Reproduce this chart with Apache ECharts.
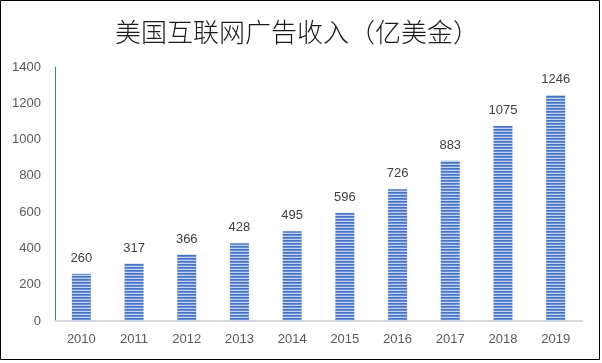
<!DOCTYPE html>
<html><head><meta charset="utf-8">
<script src="https://cdn.jsdelivr.net/npm/echarts@6/dist/echarts.min.js"></script>
<style>html,body{margin:0;padding:0;background:#fff}#c{width:602px;height:363px}</style>
</head><body><div id="c"></div>
<script>
var categories = ['2010','2011','2012','2013','2014','2015','2016','2017','2018','2019'];
var revenue = [260,317,366,428,495,596,726,883,1075,1246];
var yTicks = [0,200,400,600,800,1000,1200,1400];

var pc = document.createElement('canvas');
pc.width = 4; pc.height = 3;
var ctx = pc.getContext('2d');
ctx.fillStyle = '#4472C4'; ctx.fillRect(0,0,4,1);
ctx.fillStyle = '#6a8fd4'; ctx.fillRect(0,1,4,1);
ctx.fillStyle = '#c3d2ee'; ctx.fillRect(0,2,4,1);

var chart = echarts.init(document.getElementById('c'), null, {renderer:'canvas'});
chart.setOption({
  animation:false,
  backgroundColor:'#fff',
  title:{text:'美国互联网广告收入（亿美金）', left:292, top:14, textAlign:'center',
    textStyle:{fontFamily:'Noto Sans CJK SC', fontSize:26, fontWeight:300, color:'#1a1a1a'}},
  graphic:[{type:'rect', shape:{x:0.5,y:0.5,width:599,height:359}, style:{fill:null, stroke:'#000', lineWidth:1}, silent:true}],
  grid:{left:55, right:20, top:67, bottom:42},
  xAxis:{type:'category', data:categories,
    axisLine:{lineStyle:{color:'#d9d9d9', width:2}}, axisTick:{show:false},
    axisLabel:{color:'#595959', fontSize:13, fontFamily:'Liberation Sans', margin:12}},
  yAxis:{type:'value', min:yTicks[0], max:yTicks[yTicks.length-1], interval:200,
    axisLine:{show:true, lineStyle:{color:'#4472C4', width:1}}, axisTick:{show:false},
    splitLine:{show:false},
    axisLabel:{color:'#595959', fontSize:13, fontFamily:'Liberation Sans', margin:14,
      formatter:function(v){return String(v);}}},
  series:[{type:'bar', data:revenue, barWidth:19,
    itemStyle:{color:{image:pc, repeat:'repeat'}},
    label:{show:true, position:'top', distance:9, color:'#404040', fontSize:13, fontFamily:'Liberation Sans'}}]
});
</script></body></html>
